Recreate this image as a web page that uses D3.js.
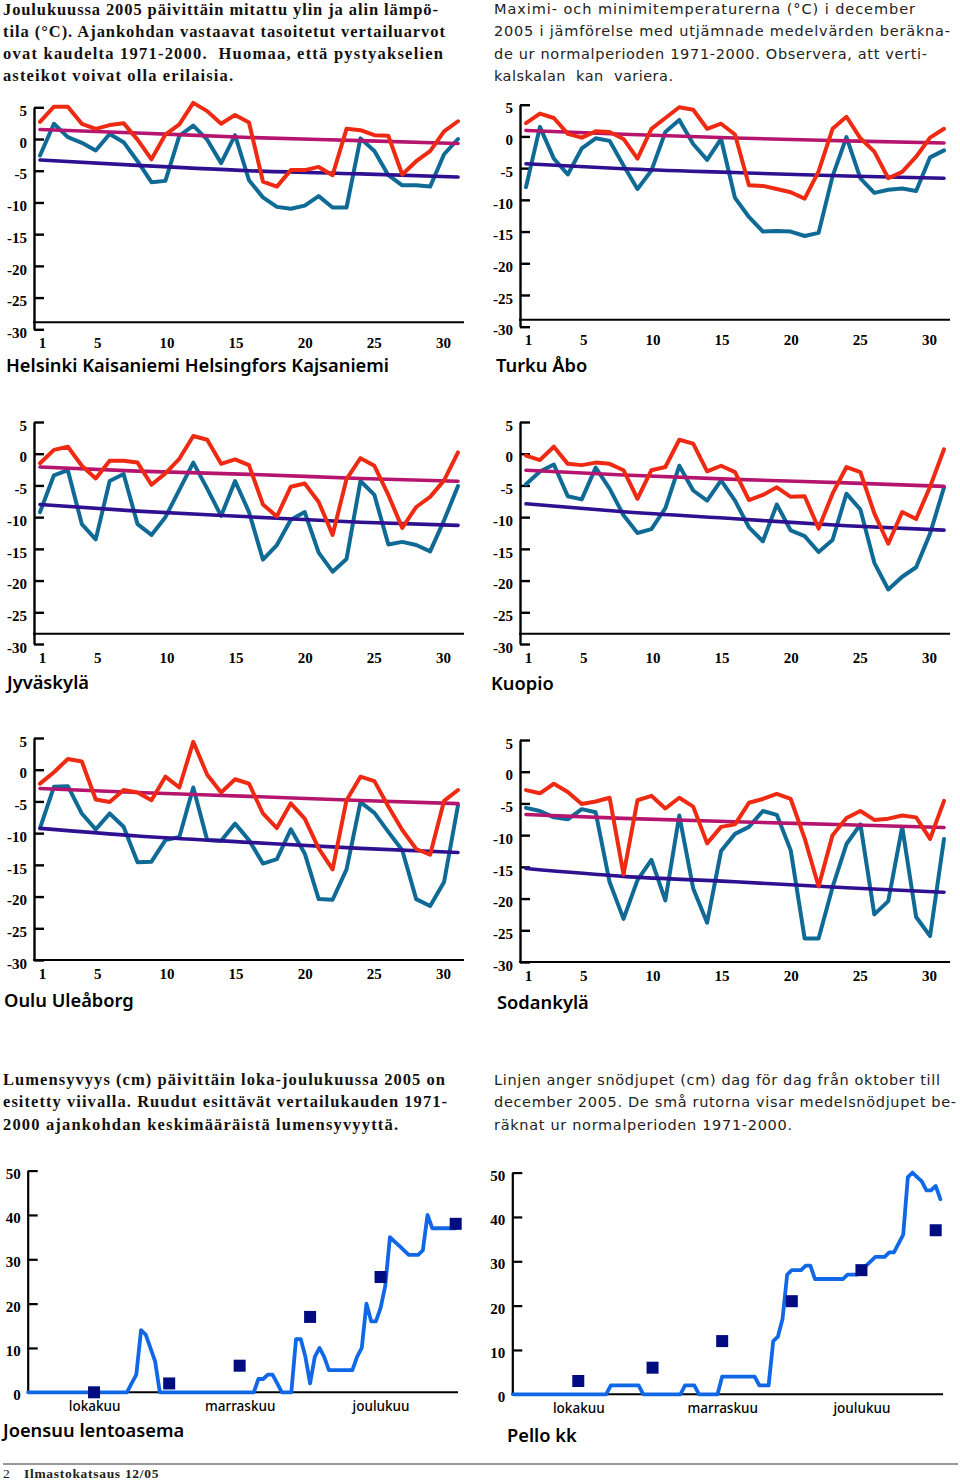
<!DOCTYPE html>
<html>
<head>
<meta charset="utf-8">
<script src="https://cdn.jsdelivr.net/npm/d3@7"></script>
<style>
  html, body { margin: 0; padding: 0; background: #fff; }
  svg { display: block; }
  .para-fi { font-family: "Liberation Serif", serif; font-weight: 700; font-size: 16.5px; fill: #111; }
  .para-sv { font-family: "DejaVu Sans", sans-serif; font-weight: 400; font-size: 14.5px; fill: #222; }
  .title { font-family: "Noto Sans", sans-serif; font-weight: 600; font-size: 18.3px; fill: #000; }
  .tick text { font-family: "Liberation Serif", serif; font-weight: 700; font-size: 15px; fill: #000; }
  .snow-x .tick text { font-family: "Noto Sans", sans-serif; font-weight: 500; font-size: 13.5px; }
  .foot { font-family: "Liberation Serif", serif; font-size: 13.5px; letter-spacing: 0.7px; fill: #222; }
</style>
</head>
<body>
<div id="chart"></div>
<script>
// Daily max and min temperatures, December 2005
var days = d3.range(1, 32);
var dayTicks = [1, 5, 10, 15, 20, 25, 30];
var tempTicks = [5, 0, -5, -10, -15, -20, -25, -30];

var helsinkiMax = [2.7, 5.1, 5.1, 2.4, 1.6, 2.2, 2.5, -0.1, -3.2, 0.7, 2.3, 5.7, 4.4, 2.4, 3.8, 2.6, -6.7, -7.5, -4.9, -4.9, -4.4, -5.7, 1.6, 1.4, 0.6, 0.5, -5.6, -3.5, -1.9, 1.2, 2.8];
var helsinkiMin = [-2.6, 2.4, 0.3, -0.6, -1.8, 0.8, -0.5, -3.5, -6.8, -6.6, 0.5, 2.1, -0.1, -3.8, 0.6, -6.5, -9.2, -10.7, -11, -10.5, -9, -10.8, -10.8, 0.1, -1.9, -5.7, -7.3, -7.3, -7.5, -2.4, 0];
var turkuMax = [2.1, 3.6, 2.9, 0.4, -0.2, 0.8, 0.7, -0.4, -3.5, 1.2, 2.9, 4.6, 4.2, 1.2, 2, 0.3, -7.7, -7.8, -8.3, -8.8, -9.8, -5.5, 1.2, 3.1, -0.3, -2.4, -6.6, -5.6, -3.2, -0.2, 1.2];
var turkuMin = [-8, 1.5, -3.5, -6, -1.9, -0.3, -0.7, -4.6, -8.3, -5.4, 0.7, 2.6, -1.2, -3.7, -0.4, -9.7, -12.7, -15, -14.9, -15, -15.7, -15.2, -6.3, -0.1, -6.6, -8.9, -8.4, -8.2, -8.6, -3.3, -2.2];
var jyvaskylaMax = [-1.5, 0.6, 1.1, -1.9, -3.9, -1.1, -1.1, -1.4, -4.9, -3.1, -0.8, 2.8, 2.2, -1.6, -0.9, -1.8, -8, -9.9, -5.2, -4.7, -7.6, -12.8, -4, -0.7, -1.9, -6.5, -11.7, -8.4, -6.8, -4.2, 0.2];
var jyvaskylaMin = [-9.2, -3.4, -2.6, -11.1, -13.5, -4.3, -3.2, -11.1, -12.8, -10, -5.7, -1.4, -5.5, -9.8, -4.3, -9.2, -16.7, -14.4, -10.4, -9.2, -15.6, -18.6, -16.6, -4.3, -6.5, -14.3, -13.9, -14.4, -15.4, -10.5, -5.1];
var kuopioMax = [-0.3, -1, 1.1, -1.6, -1.8, -1.4, -1.6, -2.6, -7.1, -2.6, -2.1, 2.2, 1.6, -2.8, -1.9, -2.9, -7.3, -6.5, -5.3, -6.8, -6.7, -11.8, -6.3, -2.1, -2.9, -9.4, -14.2, -9.2, -10.3, -5.2, 0.7];
var kuopioMin = [-4.8, -2.8, -1.7, -6.7, -7.2, -2.2, -5.5, -9.7, -12.5, -11.9, -8.6, -1.9, -5.8, -7.4, -4.2, -7.4, -11.6, -13.8, -8, -12.1, -13, -15.5, -13.6, -6.3, -8.8, -17.2, -21.4, -19.4, -17.9, -12.6, -5.3];
var ouluMax = [-2.2, -0.4, 1.7, 1.3, -4.7, -5.1, -3.2, -3.6, -4.8, -1.1, -2.8, 4.4, -0.8, -3.6, -1.5, -2.2, -6.9, -9.2, -5.3, -7.7, -12.4, -15.7, -4.8, -1.1, -1.8, -5.8, -9.5, -12.5, -13.4, -4.9, -3.2];
var ouluMin = [-9.2, -2.7, -2.6, -6.9, -9.4, -6.9, -9, -14.6, -14.5, -11.1, -10.6, -2.8, -11.1, -11.2, -8.5, -11.1, -14.8, -14.1, -9.4, -13.2, -20.4, -20.5, -15.7, -5.1, -6.8, -9.8, -12.7, -20.4, -21.5, -17.7, -5.6];
var sodankylaMax = [-2.9, -3.4, -1.9, -3.2, -5.1, -4.7, -4.1, -16.2, -4.5, -3.8, -5.8, -4.1, -5.5, -11.3, -8.7, -8.3, -4.9, -4.3, -3.5, -4.3, -10.5, -18.1, -10, -7.3, -6.2, -7.6, -7.4, -6.9, -7.2, -10.6, -4.6];
var sodankylaMin = [-5.7, -6.2, -7.2, -7.5, -5.9, -6.4, -17.4, -23.2, -17.1, -13.9, -20.3, -6.9, -18.4, -23.8, -12.5, -9.8, -8.7, -6.2, -6.8, -12.4, -26.3, -26.3, -18.2, -11.4, -8.3, -22.5, -20.4, -8.7, -22.9, -25.9, -10.6];

// Smoothed 1971-2000 normals, read at a few days of the month
var normalDays = [1, 8, 16, 24, 31];
var helsinkiNormMax = [1.5, 0.95, 0.25, -0.25, -0.7];
var helsinkiNormMin = [-3.3, -4.15, -5, -5.5, -6];
var turkuNormMax = [0.95, 0.35, -0.25, -0.7, -1.05];
var turkuNormMin = [-4.3, -5.1, -5.7, -6.25, -6.6];
var jyvaskylaNormMax = [-2.1, -2.75, -3.25, -3.9, -4.35];
var jyvaskylaNormMin = [-8, -9.05, -9.95, -10.8, -11.3];
var kuopioNormMax = [-2.6, -3.35, -4.05, -4.6, -5.15];
var kuopioNormMin = [-7.9, -9.15, -10.25, -11.35, -12.05];
var ouluNormMax = [-2.95, -3.6, -4.2, -4.85, -5.35];
var ouluNormMin = [-9.25, -10.45, -11.45, -12.4, -13.05];
var sodankylaNormMax = [-6.75, -7.35, -7.9, -8.35, -8.8];
var sodankylaNormMin = [-15.25, -16.5, -17.35, -18.3, -19];

// Snow depth (cm) day by day, 1 Oct onwards
var snowTicks = [0, 10, 20, 30, 40, 50];
var monthDays = [14, 45, 75];
var monthNames = ["lokakuu", "marraskuu", "joulukuu"];
var normalSnowDays = [14, 30, 45, 60, 75, 91];
var joensuuSnow = [0,0,0,0,0,0,0,0,0,0,0,0,0,0,0,0,0,0,0,0,0,0,2,4,14,13,10,7,0,0,0,0,0,0,0,0,0,0,0,0,0,0,0,0,0,0,0,0,0,3,3,4,4,2,0,0,0,12,12,8,2,8,10,8,5,5,5,5,5,5,8,10,20,16,16,19,24,35,34,33,32,31,31,31,32,40,37,37,37,37,37,37];
var joensuuNormal = [0, 2, 6, 17, 26, 38];
var pelloSnow = [0,0,0,0,0,0,0,0,0,0,0,0,0,0,0,0,0,0,0,0,0,2,2,2,2,2,2,2,0,0,0,0,0,0,0,0,0,2,2,2,0,0,0,0,0,4,4,4,4,4,4,4,4,2,2,2,12,13,17,27,28,28,28,29,29,26,26,26,26,26,26,26,27,27,27,28,29,30,31,31,31,32,32,34,36,49,50,49,48,46,46,47,44];
var pelloNormal = [3, 6, 12, 21, 28, 37];

// Text
var introFi = ["Joulukuussa 2005 päivittäin mitattu ylin ja alin lämpö-", "tila (°C). Ajankohdan vastaavat tasoitetut vertailuarvot", "ovat kaudelta 1971-2000.  Huomaa, että pystyakselien", "asteikot voivat olla erilaisia."];
var introSv = ["Maximi- och minimitemperaturerna (°C) i december", "2005 i jämförelse med utjämnade medelvärden beräkna-", "de ur normalperioden 1971-2000. Observera, att verti-", "kalskalan  kan  variera."];
var snowFi = ["Lumensyvyys (cm) päivittäin loka-joulukuussa 2005 on", "esitetty viivalla. Ruudut esittävät vertailukauden 1971-", "2000 ajankohdan keskimääräistä lumensyvyyttä."];
var snowSv = ["Linjen anger snödjupet (cm) dag för dag från oktober till", "december 2005. De små rutorna visar medelsnödjupet be-", "räknat ur normalperioden 1971-2000."];

// Measured line widths of the paragraphs in px
var introFiW = [435, 442, 440, 230];
var introSvW = [421, 456, 433, 179];
var snowFiW = [442, 444, 395];
var snowSvW = [446, 462, 298];

var colorMax = "#ee2a12", colorMin = "#0f6a96", colorNormMax = "#b5156f", colorNormMin = "#2e1090";
var colorSnow = "#1068e6", colorSquare = "#000c80";

var svg = d3.select("#chart").append("svg")
    .attr("width", 960)
    .attr("height", 1481);

function drawParagraph(lines, widths, cls, x, y, step) {
    svg.append("g").selectAll("text")
      .data(lines)
      .enter()
      .append("text")
      .attr("class", cls)
      .attr("x", x)
      .attr("y", function(d, i) { return y + i * step; })
      .attr("xml:space", "preserve")
      .attr("textLength", function(d, i) { return widths[i]; })
      .attr("lengthAdjust", "spacing")
      .text(function(d) { return d; });
}

function drawTitle(name, x, y) {
    svg.append("text").attr("class", "title").attr("x", x).attr("y", y).text(name);
}

function drawTemp(p, maxVals, minVals, normMax, normMin) {
    var x = d3.scaleLinear().domain([1, 31]).range([p.left + 6, p.left + 424]);
    // Day labels run on their own slightly narrower spacing in the original
    var xLabels = d3.scaleLinear().domain([1, 30]).range([p.left + 8, p.left + 409]);
    var y = d3.scaleLinear().domain([5, -30]).range([p.top, p.top + 222]);
    var g = svg.append("g");

    // Vertical axis, ticks point into the plot
    var yAxis = g.append("g")
      .attr("transform", "translate(" + p.left + ",0)")
      .call(d3.axisLeft(y).tickValues(tempTicks).tickFormat(function(d) { return String(d); }).tickSize(-10).tickSizeOuter(0).tickPadding(7));
    yAxis.selectAll("text").attr("dy", "0.55em").attr("x", -7);
    yAxis.selectAll("path, line").attr("stroke", "#000").attr("stroke-width", 2.4);

    // Day labels sit below the -30 tick, the base line can be a bit higher
    var xAxis = g.append("g")
      .attr("transform", "translate(0," + y(-30) + ")")
      .call(d3.axisBottom(xLabels).tickValues(dayTicks).tickFormat(d3.format("d")).tickSize(0).tickPadding(8));
    xAxis.select(".domain").remove();

    g.append("line")
      .attr("x1", p.left - 1)
      .attr("x2", p.left + 430)
      .attr("y1", y(p.base))
      .attr("y2", y(p.base))
      .attr("stroke", "#000")
      .attr("stroke-width", 2);

    var daily = d3.line().x(function(d, i) { return x(days[i]); }).y(function(d) { return y(d); });
    var normal = d3.line().x(function(d, i) { return x(normalDays[i]); }).y(function(d) { return y(d); }).curve(d3.curveMonotoneX);

    var series = [
        { vals: minVals, gen: daily, color: colorMin, w: 4 },
        { vals: normMin, gen: normal, color: colorNormMin, w: 3.6 },
        { vals: normMax, gen: normal, color: colorNormMax, w: 3.6 },
        { vals: maxVals, gen: daily, color: colorMax, w: 4 }
    ];

    g.selectAll(".series")
      .data(series)
      .enter()
      .append("path")
      .attr("class", "series")
      .attr("d", function(d) { return d.gen(d.vals); })
      .attr("fill", "none")
      .attr("stroke", function(d) { return d.color; })
      .attr("stroke-width", function(d) { return d.w; })
      .attr("stroke-linejoin", "round")
      .attr("stroke-linecap", "round");
}

function drawSnow(p, vals, normals) {
    var x = d3.scaleLinear().domain([0, 91]).range([p.x0, p.x1]);
    var y = d3.scaleLinear().domain([0, 50]).range([p.zero, p.zero - 221.7]);
    var g = svg.append("g");

    var yAxis = g.append("g")
      .attr("transform", "translate(" + p.left + ",0)")
      .call(d3.axisLeft(y).tickValues(snowTicks).tickSize(-10).tickSizeOuter(0).tickPadding(7));
    yAxis.selectAll("text").attr("dy", "0.5em").attr("x", -7);
    yAxis.selectAll("path, line").attr("stroke", "#000").attr("stroke-width", 2.2);

    var xAxis = g.append("g")
      .attr("class", "snow-x")
      .attr("transform", "translate(0," + p.zero + ")")
      .call(d3.axisBottom(x).tickValues(monthDays).tickFormat(function(d, i) { return monthNames[i]; }).tickSize(0).tickPadding(9));
    xAxis.select(".domain").remove();

    g.append("line")
      .attr("x1", p.left - 1)
      .attr("x2", p.right)
      .attr("y1", p.zero)
      .attr("y2", p.zero)
      .attr("stroke", "#000")
      .attr("stroke-width", 2);

    g.append("path")
      .attr("d", d3.line().x(function(d, i) { return x(i); }).y(function(d) { return y(d); })(vals))
      .attr("fill", "none")
      .attr("stroke", colorSnow)
      .attr("stroke-width", 3.8)
      .attr("stroke-linejoin", "round")
      .attr("stroke-linecap", "round");

    g.selectAll(".square")
      .data(normals)
      .enter()
      .append("rect")
      .attr("class", "square")
      .attr("x", function(d, i) { return x(normalSnowDays[i]) - 6; })
      .attr("y", function(d) { return y(d) - 6; })
      .attr("width", 12)
      .attr("height", 12)
      .attr("fill", colorSquare);
}

// Page text
drawParagraph(introFi, introFiW, "para-fi", 3, 14.7, 22.2);
drawParagraph(introSv, introSvW, "para-sv", 494, 14, 22.4);
drawParagraph(snowFi, snowFiW, "para-fi", 3, 1085, 22.4);
drawParagraph(snowSv, snowSvW, "para-sv", 494, 1085, 22.4);

// Temperature panels
drawTemp({ left: 34, top: 107.3, base: -28.9 }, helsinkiMax, helsinkiMin, helsinkiNormMax, helsinkiNormMin);
drawTemp({ left: 520, top: 104.7, base: -28.9 }, turkuMax, turkuMin, turkuNormMax, turkuNormMin);
drawTemp({ left: 34, top: 422, base: -28.4 }, jyvaskylaMax, jyvaskylaMin, jyvaskylaNormMax, jyvaskylaNormMin);
drawTemp({ left: 520, top: 422, base: -28.4 }, kuopioMax, kuopioMin, kuopioNormMax, kuopioNormMin);
drawTemp({ left: 34, top: 738, base: -30 }, ouluMax, ouluMin, ouluNormMax, ouluNormMin);
drawTemp({ left: 520, top: 740, base: -30 }, sodankylaMax, sodankylaMin, sodankylaNormMax, sodankylaNormMin);

drawTitle("Helsinki Kaisaniemi Helsingfors Kajsaniemi", 6, 372);
drawTitle("Turku Åbo", 496, 372);
drawTitle("Jyväskylä", 7, 689);
drawTitle("Kuopio", 491, 690);
drawTitle("Oulu Uleåborg", 4, 1007);
drawTitle("Sodankylä", 497, 1009);

// Snow panels
drawSnow({ left: 27.7, right: 458, zero: 1392.3, x0: 28.3, x1: 455.7 }, joensuuSnow, joensuuNormal);
drawSnow({ left: 512.3, right: 943, zero: 1394.3, x0: 513.3, x1: 935.7 }, pelloSnow, pelloNormal);

drawTitle("Joensuu lentoasema", 3, 1437);
drawTitle("Pello kk", 507, 1442);

// Footer
svg.append("line").attr("x1", 3).attr("x2", 958).attr("y1", 1464).attr("y2", 1464).attr("stroke", "#333").attr("stroke-width", 1);
svg.append("text").attr("class", "foot").attr("x", 3).attr("y", 1478).text("2");
svg.append("text").attr("class", "foot").attr("x", 24).attr("y", 1478).attr("font-weight", 700).text("Ilmastokatsaus 12/05");
</script>
</body>
</html>
